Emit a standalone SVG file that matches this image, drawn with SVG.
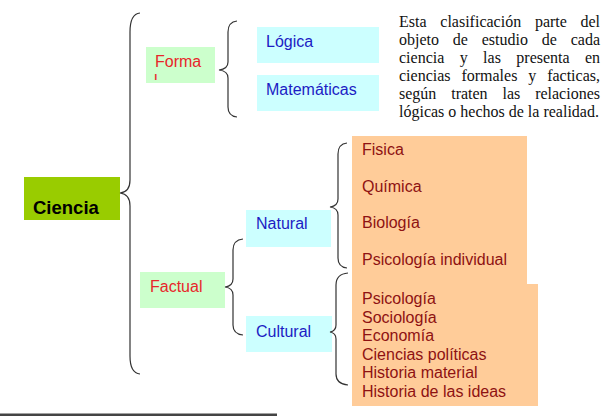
<svg xmlns="http://www.w3.org/2000/svg" width="612" height="416" viewBox="0 0 612 416">
<style>
.sans{font-family:"Liberation Sans",Arial,sans-serif;font-size:16px}
.serif{font-family:"Liberation Serif","Times New Roman",serif;font-size:16px;fill:#111}
.red{fill:#e8262a}
.blue{fill:#1c1cc4}
.dred{fill:#8e1212}
.green{fill:#ccffcc}
.cyan{fill:#ccffff}
.orange{fill:#ffcc99}
.brace{fill:none;stroke:#333;stroke-width:1.2}
</style>
<defs>
<clipPath id="formaClip"><rect x="146" y="47" width="69" height="33"/></clipPath>
</defs>
<rect width="612" height="416" fill="#fff"/>

<g id="ciencia">
<rect x="24" y="177" width="96" height="43" fill="#99cc00"/>
<text x="33" y="214" style="font-family:'Liberation Sans',Arial,sans-serif;font-size:18.5px;font-weight:bold" fill="#000">Ciencia</text>
</g>

<g id="formal">
<rect class="green" x="146" y="47" width="69" height="36"/>
<text class="sans red" x="155" y="67">Forma</text>
<text class="sans red" x="154" y="86" clip-path="url(#formaClip)">l</text>
</g>

<g id="logica">
<rect class="cyan" x="257" y="27" width="122" height="36"/>
<text class="sans blue" x="266" y="47">Lógica</text>
</g>

<g id="matematicas">
<rect class="cyan" x="257" y="75" width="122" height="36"/>
<text class="sans blue" x="266" y="95">Matemáticas</text>
</g>

<g id="nota">
<text class="serif" y="27"><tspan x="399">Esta</tspan><tspan x="440.3">clasificación</tspan><tspan x="534.9">parte</tspan><tspan x="600" text-anchor="end">del</tspan></text>
<text class="serif" y="45"><tspan x="399">objeto</tspan><tspan x="452.8">de</tspan><tspan x="481.7">estudio</tspan><tspan x="541.7">de</tspan><tspan x="600" text-anchor="end">cada</tspan></text>
<text class="serif" y="63"><tspan x="399">ciencia</tspan><tspan x="459.7">y</tspan><tspan x="483.1">las</tspan><tspan x="516.3">presenta</tspan><tspan x="600" text-anchor="end">en</tspan></text>
<text class="serif" y="81"><tspan x="399">ciencias</tspan><tspan x="461.4">formales</tspan><tspan x="528.3">y</tspan><tspan x="600" text-anchor="end">facticas,</tspan></text>
<text class="serif" y="99"><tspan x="399">según</tspan><tspan x="451.2">traten</tspan><tspan x="502.5">las</tspan><tspan x="600" text-anchor="end">relaciones</tspan></text>
<text class="serif" x="399" y="117">lógicas o hechos de la realidad.</text>
</g>

<g id="factual">
<rect class="green" x="140" y="272" width="85" height="36"/>
<text class="sans red" x="150" y="292">Factual</text>
</g>

<g id="natural">
<rect class="cyan" x="246" y="210" width="85" height="37"/>
<text class="sans blue" x="256" y="229">Natural</text>
</g>

<g id="cultural">
<rect class="cyan" x="246" y="316" width="86" height="36"/>
<text class="sans blue" x="256" y="337">Cultural</text>
</g>

<g id="naturales">
<rect class="orange" x="352" y="136" width="175" height="149"/>
<text class="sans dred" x="362" y="155">Fisica</text>
<text class="sans dred" x="362" y="192">Química</text>
<text class="sans dred" x="362" y="228">Biología</text>
<text class="sans dred" x="362" y="265">Psicología individual</text>
</g>

<g id="culturales">
<rect class="orange" x="352" y="284" width="186" height="122"/>
<text class="sans dred" x="362" y="304">Psicología</text>
<text class="sans dred" x="362" y="323">Sociología</text>
<text class="sans dred" x="362" y="341">Economía</text>
<text class="sans dred" x="362" y="360">Ciencias políticas</text>
<text class="sans dred" x="362" y="378">Historia material</text>
<text class="sans dred" x="362" y="397">Historia de las ideas</text>
</g>

<g id="connectors">
<path class="brace" d="M140 13 Q130 14 130 32 L130 180 Q130 192 120 193 Q130 194 130 206 L130 356 Q130 373 140 374"/>
<path class="brace" d="M237 21 Q228 22 228 32 L228 62 Q228 69 219 70 Q228 71 228 78 L228 107 Q228 116 237 117"/>
<path class="brace" d="M243 239 Q233 240 233 250 L233 279 Q233 286 225 287 Q233 288 233 295 L233 325 Q233 334 243 335"/>
<path class="brace" d="M347 143 Q338 144 338 154 L338 199 Q338 206 330 207 Q338 208 338 215 L338 258 Q338 267 347 268"/>
<path class="brace" d="M348 273 Q336 274 336 285 L336 325 Q336 331 330 332 Q336 333 336 339 L336 374 Q336 384 348 385"/>
</g>

<rect x="0" y="413.5" width="277" height="2.5" fill="#444"/>
</svg>
